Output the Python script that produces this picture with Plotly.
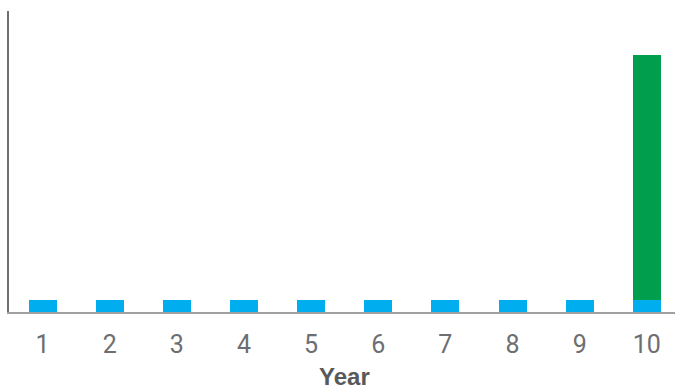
import plotly.graph_objects as go

years = [1, 2, 3, 4, 5, 6, 7, 8, 9, 10]
tick_labels = ["1", "2", "3", "4", "5", "6", "7", "8", "9", "10"]
coupon = [5, 5, 5, 5, 5, 5, 5, 5, 5, 5]
principal = [0, 0, 0, 0, 0, 0, 0, 0, 0, 100]
x_title = "Year"

fig = go.Figure()
fig.add_trace(go.Bar(x=years, y=coupon, marker=dict(color="#00AEEF", line=dict(width=0)), name="Coupon"))
fig.add_trace(go.Bar(x=years, y=principal, marker=dict(color="#009E4D", line=dict(width=0)), name="Principal"))

fig.update_layout(
    width=675, height=391,
    barmode="stack",
    bargap=0.583,
    showlegend=False,
    plot_bgcolor="white",
    paper_bgcolor="white",
    margin=dict(l=9, r=0, t=11, b=79),
    font=dict(family="Roboto", color="#6d6e71"),
    xaxis=dict(
        range=[0.5, 10.42],
        tickmode="array",
        tickvals=years,
        ticktext=tick_labels,
        tickfont=dict(size=25, color="#6d6e71"),
        showgrid=False,
        zeroline=False,
        showline=True,
        linecolor="#a0a0a0",
        linewidth=1.5,
        ticks="",
        ticklabelstandoff=9,
        automargin=False,
    ),
    yaxis=dict(
        range=[0, 123],
        showgrid=False,
        zeroline=False,
        showline=True,
        linecolor="#6d6e71",
        linewidth=1.5,
        showticklabels=False,
        ticks="",
    ),
    annotations=[dict(
        text="<b>" + x_title + "</b>",
        xref="x", x=5.5, yref="paper", y=0,
        xanchor="center", yanchor="bottom", yshift=-79,
        showarrow=False, borderpad=0,
        font=dict(family="Liberation Sans", size=24, color="#58595b"),
    )],
)

fig.write_html("out.html")
